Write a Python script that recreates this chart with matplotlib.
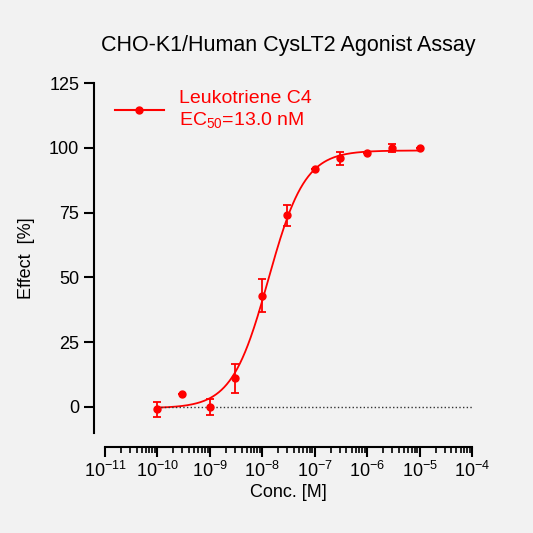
import numpy as np
import matplotlib
matplotlib.use("Agg")
import matplotlib.pyplot as plt
from matplotlib.ticker import LogLocator, NullFormatter

plt.rcParams["font.family"] = ["Liberation Sans", "DejaVu Sans"]
plt.rcParams["mathtext.fontset"] = "custom"
plt.rcParams["mathtext.rm"] = "Liberation Sans"
plt.rcParams["mathtext.it"] = "Liberation Sans"
plt.rcParams["mathtext.default"] = "regular"

conc = [1e-10, 3e-10, 1e-9, 3e-9, 1e-8, 3e-8, 1e-7, 3e-7, 1e-6, 3e-6, 1e-5]
effect = [-1, 5, 0, 11, 43, 74, 92, 96, 98, 100, 100]
err = [3, 0, 3, 5.5, 6.5, 4, 0, 2.5, 0, 1.5, 0]
bottom, top, ec50, hill = -0.5, 99, 1.3e-8, 1.25

bg = "#f2f2f2"
fig = plt.figure(figsize=(5.33, 5.33), dpi=100, facecolor=bg)
ax = fig.add_axes([0.197, 0.188, 0.689, 0.656], facecolor=bg)
ax.set_xscale("log")
ax.set_xlim(1e-11, 1e-4)
ax.set_ylim(-10, 125)
for s in ["top", "right"]:
    ax.spines[s].set_visible(False)
ax.spines["left"].set_position(("outward", 8))
ax.spines["bottom"].set_position(("outward", 10))
ax.spines["left"].set_linewidth(1.5)
ax.spines["bottom"].set_linewidth(1.5)
ax.set_yticks([0, 25, 50, 75, 100, 125])
ax.xaxis.set_major_locator(LogLocator(base=10, numticks=20))
ax.xaxis.set_minor_locator(LogLocator(base=10, subs=np.arange(2, 10), numticks=100))
ax.xaxis.set_minor_formatter(NullFormatter())
ax.tick_params(axis="both", which="major", length=7, width=1.5, labelsize=13)
ax.tick_params(axis="x", which="minor", length=4, width=1.2)

xs = np.logspace(-10, -5, 300)
ax.plot(xs, bottom + (top - bottom) / (1 + (ec50 / xs) ** hill), color="red", lw=1.3)
ax.errorbar(conc, effect, yerr=err, fmt="o", color="red", ms=5, capsize=3, elinewidth=1.3, capthick=1.3)
ax.axhline(0, xmin=(-10 + 11) / 7, color="#333333", ls=":", lw=1)
ax.plot([], [], "o-", color="red", ms=5, label="Leukotriene C4\nEC$_{50}$=13.0 nM")
leg = ax.legend(loc="upper left", frameon=False, fontsize=14, handlelength=2.5,
                bbox_to_anchor=(-0.02, 1.03))
for t in leg.get_texts():
    t.set_color("red")
ax.set_xlabel("Conc. [M]", fontsize=13, labelpad=2)
ax.set_ylabel("Effect  [%]", fontsize=13, labelpad=10)
fig.text(0.54, 0.905, "CHO-K1/Human CysLT2 Agonist Assay", ha="center", fontsize=15.5)
fig.savefig("out.png", dpi=100, facecolor=bg)
